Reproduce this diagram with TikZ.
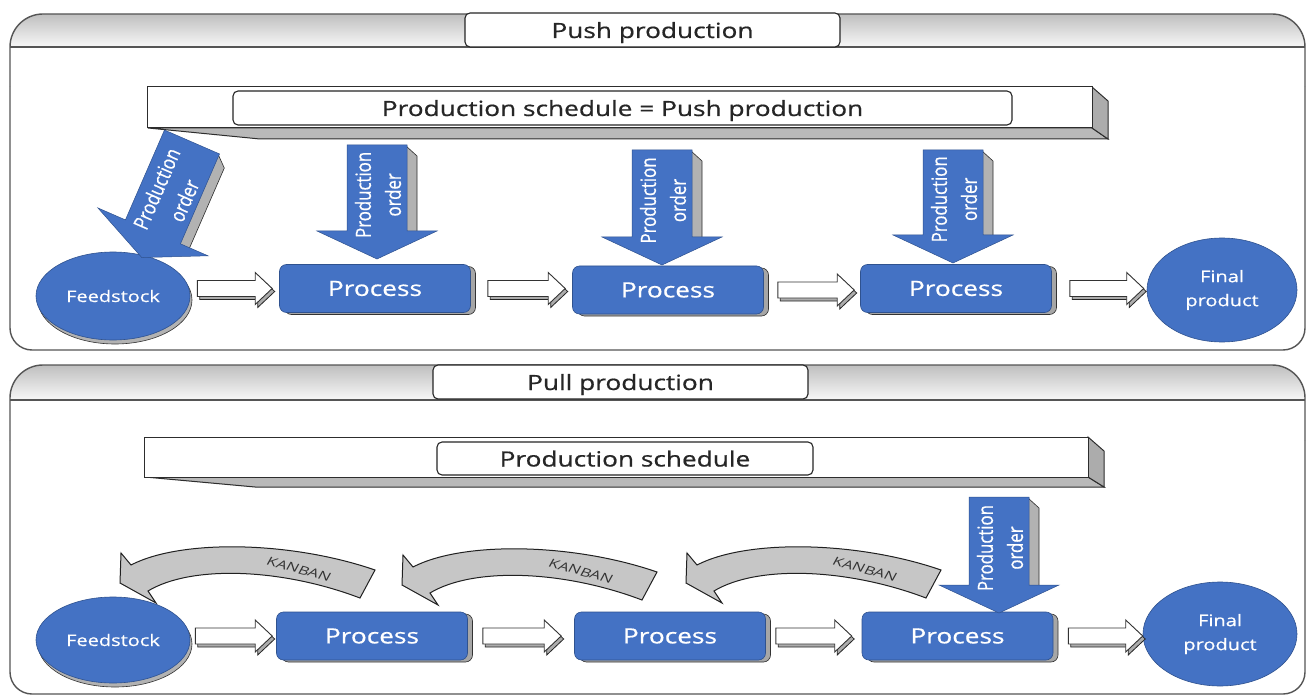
\documentclass[tikz,border=0pt]{standalone}
\usepackage{fontspec}
\setmainfont{Open Sans}[FakeStretch=1.25,FakeBold=0.6]
\newfontfamily\rotfont{Open Sans}[FakeStretch=0.8,FakeBold=0.6]
\newfontfamily\kanbanfont{Open Sans}[FakeStretch=1.35,FakeSlant=0.25]
\usetikzlibrary{shapes.geometric,calc,shadows}
\definecolor{pblue}{HTML}{4472C4}
\definecolor{pbluedark}{HTML}{2F528F}
\definecolor{txt}{HTML}{262626}
\definecolor{framec}{HTML}{555555}
\tikzset{
 frameline/.style={draw=framec, line width=1.4pt},
 barline/.style={draw=gray!35!black, line width=1pt},
 titlebox/.style={draw=black!85, line width=1.1pt, fill=white, rounded corners=5pt,
   minimum width=375pt, minimum height=34pt, inner sep=0pt, text=txt,
   text height=16pt, text depth=0pt,
   font=\fontsize{21}{25}\selectfont},
 procbox/.style={fill=pblue, draw=pbluedark, line width=0.6pt, rounded corners=7pt,
   minimum width=191pt, minimum height=48pt, inner sep=0pt, text=white,
   font=\fontsize{21}{25}\selectfont,
   copy shadow={shadow xshift=5pt, shadow yshift=-2pt, fill=gray!70, draw=gray!40!black, line width=0.6pt}},
 endnode/.style={ellipse, fill=pblue, draw=pbluedark, line width=0.6pt, inner sep=0pt,
   text=white, align=center, font=\fontsize{16}{24}\selectfont},
 fsshadow/.style={copy shadow={shadow xshift=2pt, shadow yshift=-4pt, fill=gray!60, draw=gray!40!black}},
 potext/.style={text=white, align=center, inner sep=0pt, rotate=90, transform shape,
   font=\rotfont\fontsize{21}{30}\selectfont},
 kanbanarrow/.style={fill=gray!45, draw=gray!25!black, line width=1pt},
 kanbantext/.style={font=\kanbanfont\fontsize{12}{12}\selectfont, text=black!80, inner sep=0pt},
 blockshadow/.style={fill=gray!65, draw=gray!30!black, line width=0.8pt},
 blockbody/.style={fill=white, draw=black!80, line width=0.9pt}
}
\newcommand{\sectionframe}[3]{%
 \begin{scope}
  \clip[rounded corners=33pt] (10,#1) rectangle (1305,#2+60);
  \shade[top color=gray!50, bottom color=gray!6] (0,#1) rectangle (1307,#2);
 \end{scope}
 \draw[frameline, rounded corners=33pt] (10,#2+40) -- (10,#1) -- (1305,#1) -- (1305,#2+40);
 \draw[frameline, rounded corners=22pt] (10,#2+40) -- (10,#3) -- (1305,#3) -- (1305,#2+40);
 \draw[frameline] (10,#2) -- (1305,#2);
}
\newcommand{\blockarrow}[2]{%
 \path[blockshadow] let \p1=(#1), \p2=(#2) in
   (\x1+2.5pt,\y1+5pt) -- (\x2-14.5pt,\y1+5pt) -- (\x2-14.5pt,\y1+13pt) -- (\x2+2.5pt,\y1-3pt)
   -- (\x2-14.5pt,\y1-19pt) -- (\x2-14.5pt,\y1-11pt) -- (\x1+2.5pt,\y1-11pt) -- cycle;
 \path[blockbody] let \p1=(#1), \p2=(#2) in
   (\x1,\y1+8pt) -- (\x2-17pt,\y1+8pt) -- (\x2-17pt,\y1+16pt) -- (\x2,\y1)
   -- (\x2-17pt,\y1-16pt) -- (\x2-17pt,\y1-8pt) -- (\x1,\y1-8pt) -- cycle;
}
\newcommand{\prodorder}[5]{%
 \begin{scope}[shift={(#1,#2)}, rotate=#3]
  \filldraw[fill=gray!60, draw=gray!35!black, line width=0.6pt]
    (29,1) -- (40,11) -- (40,{#4+1}) -- (29,{#4+1}) -- cycle;
  \filldraw[fill=pblue, draw=pbluedark, line width=0.5pt]
    (-30,0) -- (30,0) -- (30,#4) -- (60,#4) -- (0,{#4+28}) -- (-60,#4) -- (-30,#4) -- cycle;
  \node[potext] (#5) at (1,{0.58*#4}) {Production\\order};
 \end{scope}}
\newcommand{\kanban}[3]{%
 \begin{scope}[shift={(#1,#2)}]
  \draw[kanbanarrow] (0,0) -- (-1,30) -- (35,50) -- (27,38)
    .. controls (70,12) and (160,15) .. (239,45) -- (254,17)
    .. controls (170,-12) and (60,-14) .. (10,12) -- cycle;
  \node[kanbantext, rotate=-15] (#3) at (177,16) {KANBAN};
 \end{scope}}
\begin{document}
\begin{tikzpicture}[x=1pt,y=-1pt]
\useasboundingbox (0,0) rectangle (1307,695);
\fill[white] (0,0) rectangle (1307,695);

% ---------- Push production ----------
\sectionframe{14}{47}{350}
\node[titlebox] (t1) at (652.5,30) {Push production};

\draw[barline, fill=gray!55] (148,128) -- (1092,128) -- (1108,139) -- (260,139) -- cycle;
\draw[barline, fill=gray!65] (1092,87) -- (1108,101) -- (1108,139) -- (1092,128) -- cycle;
\draw[barline, fill=white] (147,87) rectangle (1092,128);
\node[titlebox, minimum width=779pt] (ps1) at (622.5,108) {Production schedule = Push production};

\node[endnode, fsshadow, minimum width=154pt, minimum height=88pt] (fs1) at (113,296) {Feedstock};
\node[procbox] (p1) at (375,288.5) {Process};
\node[procbox] (p2) at (668,290) {Process};
\node[procbox] (p3) at (956,288.5) {Process};
\node[endnode, minimum width=150pt, minimum height=104pt] (fp1) at (1222,290) {Final\\product};

\prodorder{192}{142}{-23.5}{98}{po1}
\prodorder{377}{145}{0}{86}{po2}
\prodorder{662}{150}{0}{87}{po3}
\prodorder{953}{150}{0}{85}{po4}

\blockarrow{$(fs1.east |- p1.west)+(7,0)$}{$(p1.west)+(-7,0)$}
\blockarrow{$(p1.east)+(17,0)$}{$(p2.west)+(-7,0)$}
\blockarrow{$(p2.east)+(14,0)$}{$(p3.west)+(-6,0)$}
\blockarrow{$(p3.east)+(18,0)$}{$(fp1.west |- p3.east)+(-3,0)$}

% ---------- Pull production ----------
\sectionframe{365}{400}{694}
\node[titlebox] (t2) at (620.5,382) {Pull production};

\draw[barline, fill=gray!55] (145,477) -- (1088,477) -- (1104,487) -- (255,487) -- cycle;
\draw[barline, fill=gray!65] (1088,437) -- (1104,451) -- (1104,487) -- (1088,477) -- cycle;
\draw[barline, fill=white] (144,437) rectangle (1088,477);
\node[titlebox, minimum width=376pt, minimum height=33pt] (ps2) at (625,458.5) {Production schedule};

\node[endnode, fsshadow, minimum width=154pt, minimum height=86pt] (fs2) at (113,640) {Feedstock};
\node[procbox] (q1) at (372,636) {Process};
\node[procbox] (q2) at (670,636) {Process};
\node[procbox] (q3) at (957.5,636) {Process};
\node[endnode, minimum width=154pt, minimum height=104pt] (fp2) at (1220,634) {Final\\product};

\kanban{121}{553}{k1}
\kanban{403}{555}{k2}
\kanban{687}{553}{k3}

\prodorder{999}{497}{0}{88}{po5}

\blockarrow{$(fs2.east |- q1.west)+(5,0)$}{$(q1.west)+(-4,0)$}
\blockarrow{$(q1.east)+(15,0)$}{$(q2.west)+(-13,0)$}
\blockarrow{$(q2.east)+(10,0)$}{$(q3.west)+(-10,0)$}
\blockarrow{$(q3.east)+(15,0)$}{$(fp2.west |- q3.east)+(0,0)$}
\end{tikzpicture}
\end{document}
